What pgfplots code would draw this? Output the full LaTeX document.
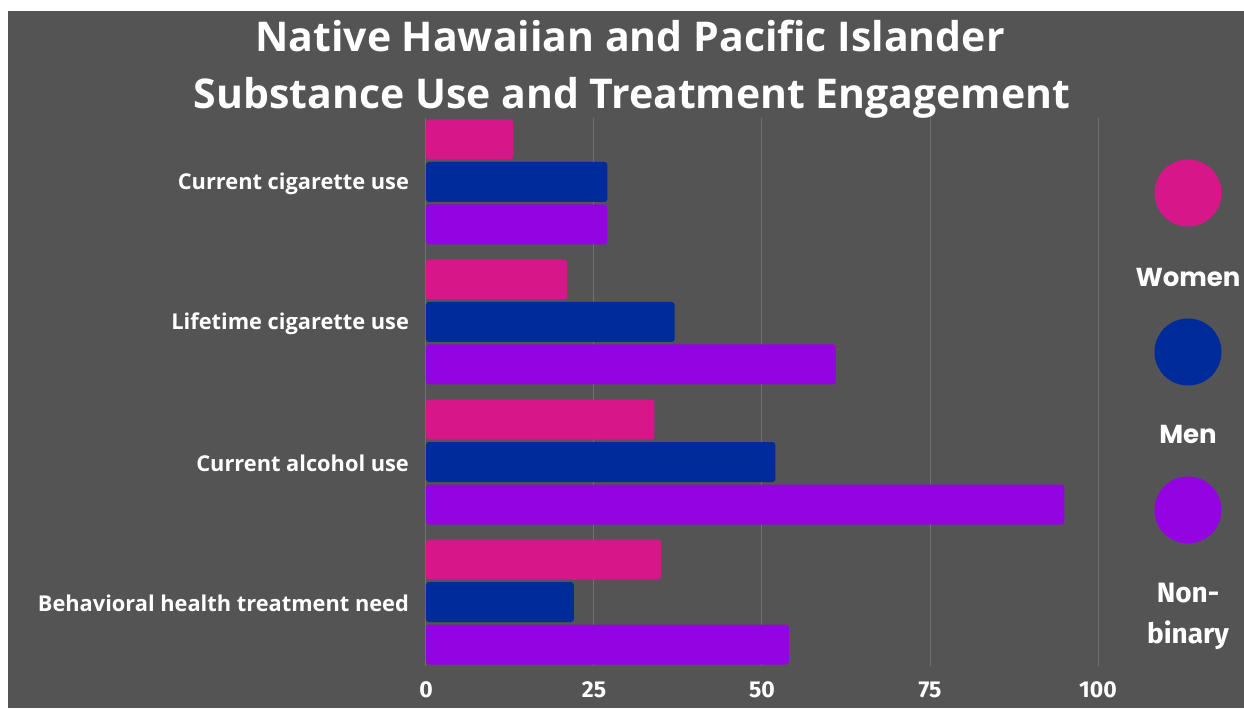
\documentclass[border=0pt]{standalone}
\usepackage{pgfplots}
\pgfplotsset{compat=1.18}
\usepackage{fontspec}
\setmainfont{Open Sans}
\newfontfamily\pop{Poppins}
\newfontfamily\fira{Fira Sans}
\definecolor{bg}{RGB}{84,84,84}
\definecolor{gridc}{RGB}{112,112,112}
\definecolor{colwomen}{RGB}{214,22,137}
\definecolor{colmen}{RGB}{0,43,155}
\definecolor{colnb}{RGB}{148,4,226}
\begin{document}
\begin{tikzpicture}
\useasboundingbox (0,0) rectangle (622pt,354pt);
\fill[white] (0,0) rectangle (622pt,354pt);
\fill[bg] (4pt,0) rectangle (622pt,348.5pt);
\node[anchor=base, text=white, font=\bfseries\fontsize{20.5}{24}\selectfont] at (315pt,328pt) {Native Hawaiian and Pacific Islander};
\node[anchor=base, text=white, font=\bfseries\fontsize{20.5}{24}\selectfont] at (316pt,299.5pt) {Substance Use and Treatment Engagement};
\begin{axis}[
  at={(213pt,21pt)}, anchor=south west,
  width=336pt, height=274pt, scale only axis,
  xmin=0, xmax=100, ymin=-0.457, ymax=3.457,
  xbar, bar width=20pt,
  axis line style={draw=none},
  major tick length=0pt,
  xtick={0,25,50,75,100},
  xmajorgrids, grid style={gridc, line width=0.5pt},
  ytick={0,1,2,3},
  yticklabels={Behavioral health treatment need, Current alcohol use, Lifetime cigarette use, Current cigarette use},
  yticklabel style={text=white, font=\bfseries\fontsize{10.9}{12}\selectfont, xshift=-5pt, yshift=-0.8pt},
  xticklabel style={text=white, font=\fira\bfseries\fontsize{11.5}{13}\selectfont, yshift=-4.5pt},
  /pgf/number format/assume math mode=true,
]
\addplot[fill=colwomen, draw=none, rounded corners=1.5pt, bar shift=21.25pt] coordinates {(13,3) (21,2) (34,1) (35,0)};
\addplot[fill=colmen, draw=none, rounded corners=1.5pt, bar shift=0pt] coordinates {(27,3) (37,2) (52,1) (22,0)};
\addplot[fill=colnb, draw=none, rounded corners=1.5pt, bar shift=-21.25pt] coordinates {(27,3) (61,2) (95,1) (54,0)};
\end{axis}
\fill[colwomen] (594pt,257.5pt) circle (16.75pt);
\fill[colmen] (594pt,178pt) circle (16.75pt);
\fill[colnb] (594pt,99pt) circle (16.75pt);
\node[text=white, font=\pop\bfseries\fontsize{13}{15}\selectfont] at (594pt,215.5pt) {Women};
\node[text=white, font=\pop\bfseries\fontsize{13}{15}\selectfont] at (594pt,137pt) {Men};
\node[text=white, font=\fira\bfseries\fontsize{14}{16}\selectfont] at (594pt,57.5pt) {Non-};
\node[text=white, font=\fira\bfseries\fontsize{14}{16}\selectfont] at (594pt,36.5pt) {binary};
\end{tikzpicture}
\end{document}
